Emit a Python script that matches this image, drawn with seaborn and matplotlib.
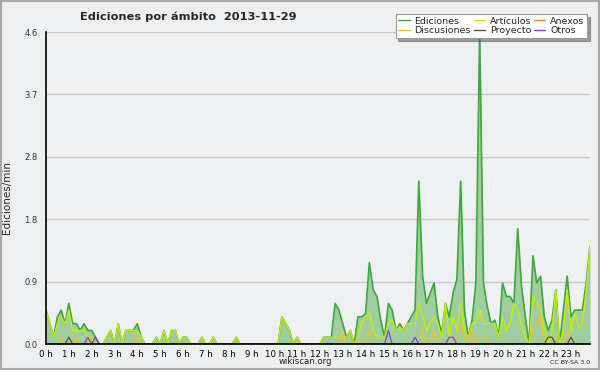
import numpy as np
import pandas as pd
import matplotlib
matplotlib.use("Agg")
import matplotlib.pyplot as plt
import seaborn as sns
from matplotlib.ticker import FixedLocator, MultipleLocator
from matplotlib.lines import Line2D
from matplotlib.patches import Rectangle

# ---------------- data (edits per minute, 10-minute slots) ----------------
hour_labels = [f"{h} h" for h in range(24)]
y_tick_values = [0.0, 0.92, 1.84, 2.76, 3.68, 4.6]
y_tick_labels = ["0.0", "0.9", "1.8", "2.8", "3.7", "4.6"]

ediciones = [
    0.5, 0.3, 0.1, 0.4, 0.5, 0.3, 0.6, 0.3, 0.3, 0.2, 0.3, 0.2,
    0.2, 0.1, 0.0, 0.0, 0.1, 0.2, 0.0, 0.3, 0.0, 0.2, 0.2, 0.2,
    0.3, 0.1, 0.0, 0.0, 0.0, 0.1, 0.0, 0.2, 0.0, 0.2, 0.2, 0.0,
    0.1, 0.1, 0.0, 0.0, 0.0, 0.1, 0.0, 0.0, 0.1, 0.0, 0.0, 0.0,
    0.0, 0.0, 0.1, 0.0, 0.0, 0.0, 0.0, 0.0, 0.0, 0.0, 0.0, 0.0,
    0.0, 0.0, 0.4, 0.3, 0.2, 0.0, 0.1, 0.0, 0.0, 0.0, 0.0, 0.0,
    0.0, 0.1, 0.1, 0.1, 0.6, 0.5, 0.3, 0.1, 0.2, 0.0, 0.4, 0.4,
    0.45, 1.2, 0.8, 0.7, 0.35, 0.1, 0.6, 0.5, 0.2, 0.3, 0.2, 0.3,
    0.4, 0.5, 2.4, 1.0, 0.6, 0.75, 0.9, 0.4, 0.15, 0.6, 0.4, 0.75,
    0.95, 2.4, 0.5, 0.1, 0.35, 0.9, 4.6, 0.9, 0.55, 0.3, 0.35, 0.1,
    0.9, 0.7, 0.7, 0.6, 1.7, 0.85, 0.4, 0.0, 1.3, 0.9, 1.0, 0.4,
    0.2, 0.35, 0.8, 0.0, 0.5, 1.0, 0.4, 0.5, 0.5, 0.5, 0.9, 1.45,
]
articulos = [
    0.5, 0.3, 0.1, 0.3, 0.4, 0.3, 0.5, 0.2, 0.2, 0.2, 0.2, 0.1,
    0.1, 0.0, 0.0, 0.0, 0.1, 0.2, 0.0, 0.3, 0.0, 0.2, 0.2, 0.2,
    0.2, 0.1, 0.0, 0.0, 0.0, 0.1, 0.0, 0.2, 0.0, 0.2, 0.2, 0.0,
    0.1, 0.1, 0.0, 0.0, 0.0, 0.1, 0.0, 0.0, 0.1, 0.0, 0.0, 0.0,
    0.0, 0.0, 0.1, 0.0, 0.0, 0.0, 0.0, 0.0, 0.0, 0.0, 0.0, 0.0,
    0.0, 0.0, 0.4, 0.3, 0.2, 0.0, 0.1, 0.0, 0.0, 0.0, 0.0, 0.0,
    0.0, 0.1, 0.1, 0.1, 0.1, 0.1, 0.1, 0.1, 0.2, 0.0, 0.1, 0.3,
    0.4, 0.45, 0.2, 0.1, 0.1, 0.1, 0.3, 0.35, 0.2, 0.25, 0.2, 0.3,
    0.3, 0.3, 0.6, 0.4, 0.2, 0.3, 0.4, 0.3, 0.1, 0.6, 0.1, 0.4,
    0.2, 0.6, 0.2, 0.1, 0.3, 0.3, 0.5, 0.3, 0.3, 0.3, 0.3, 0.1,
    0.4, 0.2, 0.3, 0.6, 0.5, 0.3, 0.1, 0.0, 0.7, 0.6, 0.5, 0.2,
    0.0, 0.2, 0.8, 0.0, 0.2, 0.8, 0.2, 0.45, 0.25, 0.3, 0.8, 1.45,
]
anexos = [
    0.0, 0.0, 0.0, 0.0, 0.0, 0.0, 0.0, 0.0, 0.0, 0.0, 0.0, 0.0,
    0.0, 0.0, 0.0, 0.0, 0.0, 0.0, 0.0, 0.0, 0.0, 0.0, 0.0, 0.0,
    0.0, 0.0, 0.0, 0.0, 0.0, 0.0, 0.0, 0.0, 0.0, 0.0, 0.0, 0.0,
    0.0, 0.0, 0.0, 0.0, 0.0, 0.0, 0.0, 0.0, 0.0, 0.0, 0.0, 0.0,
    0.0, 0.0, 0.0, 0.0, 0.0, 0.0, 0.0, 0.0, 0.0, 0.0, 0.0, 0.0,
    0.0, 0.0, 0.0, 0.0, 0.0, 0.0, 0.0, 0.0, 0.0, 0.0, 0.0, 0.0,
    0.0, 0.0, 0.0, 0.0, 0.0, 0.0, 0.0, 0.0, 0.0, 0.0, 0.0, 0.0,
    0.0, 0.0, 0.0, 0.0, 0.0, 0.0, 0.0, 0.0, 0.0, 0.0, 0.0, 0.0,
    0.0, 0.0, 0.0, 0.0, 0.0, 0.0, 0.0, 0.0, 0.0, 0.0, 0.0, 0.0,
    0.0, 0.0, 0.0, 0.0, 0.0, 0.0, 0.0, 0.0, 0.0, 0.0, 0.0, 0.0,
    0.0, 0.0, 0.0, 0.0, 0.0, 0.0, 0.0, 0.0, 0.0, 0.0, 0.0, 0.0,
    0.0, 0.0, 0.0, 0.0, 0.0, 0.0, 0.0, 0.0, 0.0, 0.0, 0.0, 0.0,
]
discusiones = [
    0.0, 0.0, 0.0, 0.0, 0.1, 0.0, 0.0, 0.0, 0.1, 0.0, 0.0, 0.0,
    0.1, 0.0, 0.0, 0.0, 0.0, 0.0, 0.0, 0.0, 0.0, 0.0, 0.0, 0.0,
    0.1, 0.0, 0.0, 0.0, 0.0, 0.0, 0.0, 0.0, 0.0, 0.0, 0.0, 0.0,
    0.0, 0.0, 0.0, 0.0, 0.0, 0.0, 0.0, 0.0, 0.0, 0.0, 0.0, 0.0,
    0.0, 0.0, 0.0, 0.0, 0.0, 0.0, 0.0, 0.0, 0.0, 0.0, 0.0, 0.0,
    0.0, 0.0, 0.0, 0.0, 0.0, 0.0, 0.0, 0.0, 0.0, 0.0, 0.0, 0.0,
    0.0, 0.0, 0.0, 0.0, 0.0, 0.0, 0.2, 0.0, 0.0, 0.0, 0.1, 0.0,
    0.0, 0.2, 0.0, 0.0, 0.0, 0.0, 0.0, 0.0, 0.0, 0.0, 0.0, 0.0,
    0.0, 0.0, 0.0, 0.2, 0.0, 0.0, 0.2, 0.0, 0.0, 0.0, 0.0, 0.0,
    0.1, 0.3, 0.1, 0.0, 0.2, 0.0, 0.1, 0.1, 0.1, 0.0, 0.0, 0.0,
    0.0, 0.0, 0.0, 0.0, 0.0, 0.0, 0.0, 0.0, 0.2, 0.3, 0.4, 0.0,
    0.1, 0.1, 0.1, 0.0, 0.0, 0.2, 0.1, 0.0, 0.0, 0.0, 0.0, 0.0,
]
proyecto = [
    0.0, 0.0, 0.0, 0.0, 0.0, 0.0, 0.1, 0.0, 0.0, 0.0, 0.0, 0.0,
    0.0, 0.0, 0.0, 0.0, 0.0, 0.0, 0.0, 0.0, 0.0, 0.0, 0.0, 0.0,
    0.0, 0.0, 0.0, 0.0, 0.0, 0.0, 0.0, 0.0, 0.0, 0.0, 0.0, 0.0,
    0.0, 0.0, 0.0, 0.0, 0.0, 0.0, 0.0, 0.0, 0.0, 0.0, 0.0, 0.0,
    0.0, 0.0, 0.0, 0.0, 0.0, 0.0, 0.0, 0.0, 0.0, 0.0, 0.0, 0.0,
    0.0, 0.0, 0.0, 0.0, 0.0, 0.0, 0.0, 0.0, 0.0, 0.0, 0.0, 0.0,
    0.0, 0.0, 0.0, 0.0, 0.0, 0.0, 0.0, 0.0, 0.0, 0.0, 0.0, 0.0,
    0.0, 0.0, 0.0, 0.0, 0.0, 0.0, 0.0, 0.0, 0.0, 0.0, 0.0, 0.0,
    0.0, 0.0, 0.0, 0.0, 0.0, 0.0, 0.0, 0.0, 0.0, 0.0, 0.0, 0.0,
    0.0, 0.0, 0.0, 0.0, 0.0, 0.0, 0.0, 0.0, 0.0, 0.0, 0.0, 0.0,
    0.0, 0.0, 0.0, 0.0, 0.0, 0.0, 0.0, 0.0, 0.0, 0.0, 0.0, 0.0,
    0.1, 0.1, 0.0, 0.0, 0.0, 0.0, 0.1, 0.0, 0.0, 0.0, 0.0, 0.0,
]
otros = [
    0.0, 0.0, 0.0, 0.0, 0.0, 0.0, 0.0, 0.0, 0.0, 0.0, 0.0, 0.1,
    0.0, 0.1, 0.0, 0.0, 0.0, 0.0, 0.0, 0.0, 0.0, 0.0, 0.0, 0.0,
    0.0, 0.0, 0.0, 0.0, 0.0, 0.0, 0.0, 0.0, 0.0, 0.0, 0.0, 0.0,
    0.0, 0.0, 0.0, 0.0, 0.0, 0.0, 0.0, 0.0, 0.0, 0.0, 0.0, 0.0,
    0.0, 0.0, 0.0, 0.0, 0.0, 0.0, 0.0, 0.0, 0.0, 0.0, 0.0, 0.0,
    0.0, 0.0, 0.0, 0.0, 0.0, 0.0, 0.0, 0.0, 0.0, 0.0, 0.0, 0.0,
    0.0, 0.0, 0.0, 0.0, 0.0, 0.0, 0.0, 0.0, 0.0, 0.0, 0.0, 0.0,
    0.0, 0.0, 0.0, 0.0, 0.0, 0.0, 0.2, 0.0, 0.0, 0.0, 0.0, 0.0,
    0.0, 0.1, 0.0, 0.0, 0.0, 0.0, 0.0, 0.0, 0.0, 0.0, 0.1, 0.1,
    0.0, 0.0, 0.0, 0.0, 0.0, 0.0, 0.0, 0.0, 0.0, 0.0, 0.0, 0.0,
    0.0, 0.0, 0.0, 0.0, 0.0, 0.0, 0.0, 0.0, 0.0, 0.0, 0.0, 0.0,
    0.0, 0.0, 0.0, 0.0, 0.0, 0.0, 0.0, 0.0, 0.0, 0.0, 0.0, 0.0,
]

# time of each 10-minute slot, in hours
hora = np.arange(len(ediciones)) / 6.0

df = pd.DataFrame({
    "hora": hora,
    "Ediciones": ediciones,
    "Artículos": articulos,
    "Anexos": anexos,
    "Discusiones": discusiones,
    "Proyecto": proyecto,
    "Otros": otros,
})

# ---------------- styling ----------------
sns.set_style("white")
plt.rcParams["font.family"] = ["DejaVu Sans"]

BG = "#eeeff0"
colors = {
    "Ediciones": "#3aa83a",
    "Artículos": "#c2ee00",
    "Anexos": "#f07840",
    "Discusiones": "#f2c21c",
    "Proyecto": "#505050",
    "Otros": "#8040e0",
}
fill_color = "#a0cda0"

fig = plt.figure(figsize=(6.0, 3.7), dpi=100)
fig.patch.set_facecolor(BG)
W, H = 600.0, 370.0
ax = fig.add_axes([46 / W, 1 - 344 / H, (590 - 46) / W, (344 - 32) / H])
ax.set_facecolor(BG)

ax.fill_between(df["hora"], df["Ediciones"], color=fill_color, lw=0, zorder=1)

draw_order = ["Ediciones", "Artículos", "Anexos", "Discusiones", "Proyecto", "Otros"]
widths = {"Ediciones": 1.2, "Artículos": 1.0}
for z, name in enumerate(draw_order):
    sns.lineplot(data=df, x="hora", y=name, ax=ax, color=colors[name],
                 lw=widths.get(name, 0.9), zorder=3 + z, legend=False)

ax.set_xlim(0, hora[-1])
ax.set_ylim(0, 4.6)

# grid + spines
ax.yaxis.set_major_locator(FixedLocator(y_tick_values))
ax.set_yticklabels(y_tick_labels)
ax.yaxis.set_minor_locator(MultipleLocator(0.23))
ax.grid(axis="y", which="major", color="#c9c9c9", lw=1.0, zorder=0)
ax.set_axisbelow(True)
for s in ["top", "right"]:
    ax.spines[s].set_visible(False)
for s in ["left", "bottom"]:
    ax.spines[s].set_color("black")
    ax.spines[s].set_linewidth(1.2)
    ax.spines[s].set_zorder(20)

ax.set_xticks(range(24))
ax.set_xticklabels(hour_labels)
ax.xaxis.set_minor_locator(MultipleLocator(1 / 6))

ax.tick_params(axis="y", which="major", direction="out", length=5, width=0.8,
               labelsize=6, pad=1, colors="black")
ax.tick_params(axis="y", which="minor", direction="out", length=3, width=0.8,
               colors="black")
ax.tick_params(axis="x", which="major", direction="out", length=3.5, width=0.8,
               labelsize=6.2, pad=0.5, colors="black")
ax.tick_params(axis="x", which="minor", direction="out", length=3, width=0.8,
               colors="black")
for lab in ax.get_yticklabels():
    lab.set_color("#333333")

ax.set_xlabel("")
ax.set_ylabel("Ediciones/min", fontsize=7.5, labelpad=6)
ax.yaxis.set_label_coords(-(46 - 12) / (590 - 46), (344 - 197) / (344 - 32))

# title & footer
fig.text(188 / W, 1 - 17 / H, "Ediciones por ámbito  2013-11-29",
         ha="center", va="center", fontsize=8.2, fontweight="bold")
fig.text(305 / W, 1 - 362 / H, "wikiscan.org", ha="center", va="center",
         fontsize=6.2, color="#222222")
fig.text(590 / W, 1 - 363 / H, "CC BY-SA 3.0", ha="right", va="center",
         fontsize=4.5, color="#222222")

# legend
legend_order = ["Ediciones", "Discusiones", "Artículos", "Proyecto", "Anexos", "Otros"]
handles = [Line2D([0], [0], color=colors[n], lw=1.0) for n in legend_order]
leg = ax.legend(handles, legend_order, ncol=3, loc="upper right",
                bbox_to_anchor=(592 / W, 1 - 9 / H), bbox_transform=fig.transFigure,
                fontsize=6.8, frameon=True, fancybox=False, shadow=True,
                edgecolor="#9a9a9a", framealpha=1, handlelength=1.2,
                handletextpad=0.5, columnspacing=0.3, labelspacing=0.05,
                borderpad=0.3)
leg.get_frame().set_linewidth(0.8)
leg.set_zorder(30)

# outer frame
fig.patches.append(Rectangle((0.001, 0.002), 0.997, 0.996, transform=fig.transFigure,
                             fill=False, edgecolor="#a8a8a8", lw=1.5))

fig.savefig("out.png", dpi=100, facecolor=BG)
